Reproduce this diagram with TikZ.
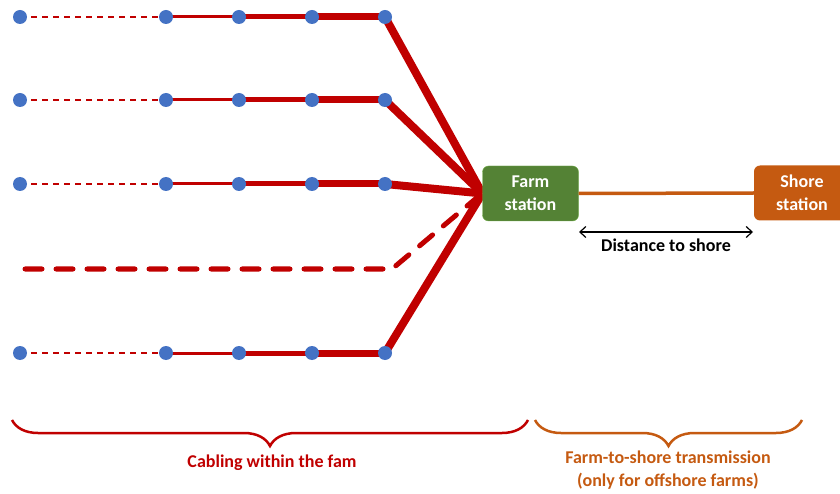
\documentclass[tikz,border=0pt]{standalone}
\usepackage{fontspec}
\setmainfont{Carlito}
\definecolor{cablered}{RGB}{192, 0, 0}
\definecolor{farmgreen}{RGB}{84, 130, 53}
\definecolor{farmedge}{RGB}{112, 173, 71}
\definecolor{shoreorange}{RGB}{197, 90, 17}
\definecolor{dotblue}{RGB}{68, 114, 196}
\usetikzlibrary{
    arrows.meta,
    positioning,
    calc,
    decorations.pathreplacing,
    backgrounds
}

\begin{document}
\begin{tikzpicture}[x=1pt,y=-1pt,
    dot/.style={circle,fill=dotblue,inner sep=0pt,minimum size=14pt},
    station/.style={rectangle,rounded corners=6pt,minimum width=96pt,minimum height=55pt,
        align=center,text=white,font=\fontsize{18}{23}\selectfont\bfseries},
    cable/.style={cablered,line cap=round}]
    \useasboundingbox (0,0) rectangle (840,494);
    \clip (0,0) rectangle (840,494);

    % Stations
    \node[station,fill=farmgreen,draw=farmedge] (farm) at (530.5,193.5) {Farm\\station};
    \node[station,fill=shoreorange] (shore) at (802,193) {Shore\\station};

    % Strings of turbines
    \foreach \r/\y in {1/17,2/100,3/184,5/353} {
        \foreach \c/\x in {1/20,2/166,3/239,4/312,5/385} {
            \node[dot] (d\r\c) at (\x,\y) {};
        }
        \begin{scope}[on background layer]
            \draw[cable,line width=2pt,dash pattern=on 6pt off 5pt,line cap=butt] (d\r1.center) -- (d\r2.center);
            \draw[cable,line width=3pt] (d\r2.center) -- (d\r3.center);
            \draw[cable,line width=5pt] (d\r3.center) -- (d\r4.center);
            \draw[cable,line width=7pt] (d\r4.center) -- (d\r5.center);
            \draw[cable,line width=8pt,line cap=butt] (d\r5.center) -- (farm.west);
        \end{scope}
    }

    % Further strings (not shown)
    \coordinate (more) at (25,269);
    \coordinate (bend) at (392,269);
    \draw[cable,line width=5pt,dash pattern=on 17pt off 14pt] (more) -- (bend) -- ($(farm.west)+(-4,3)$);

    % Transmission to shore
    \draw[shoreorange,line width=3.5pt] (farm.east) -- (shore.west);
    \coordinate (dl) at (579,232);
    \coordinate (dr) at (753,232);
    \draw[line width=1.2pt,{Straight Barb[length=6pt,width=11pt]}-{Straight Barb[length=6pt,width=11pt]}] (dl) -- (dr)
        node[midway,below=3pt,font=\fontsize{18}{22}\selectfont\bfseries] (dist) {Distance to shore};

    % Braces
    \draw[cablered,line width=2.5pt,decorate,decoration={brace,mirror,amplitude=26pt}] (12,420) -- (528,420);
    \draw[shoreorange,line width=2.5pt,decorate,decoration={brace,mirror,amplitude=26pt}] (535,420) -- (802,420);
    \node[text=cablered,font=\fontsize{18}{22}\selectfont\bfseries] (intra) at (272,463) {Cabling within the fam};
    \node[text=shoreorange,align=center,font=\fontsize{18}{23}\selectfont\bfseries] (export) at (668,470) {Farm-to-shore transmission\\(only for offshore farms)};
\end{tikzpicture}
\end{document}
